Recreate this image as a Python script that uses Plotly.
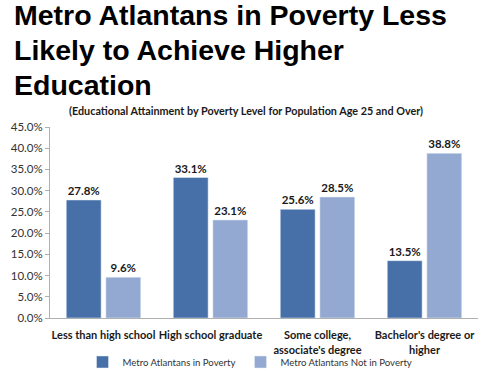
import plotly.graph_objects as go

categories = ["Less than high school", "High school graduate", "Some college,<br>associate's degree", "Bachelor's degree or<br>higher"]
in_poverty = [27.8, 33.1, 25.6, 13.5]
not_in_poverty = [9.6, 23.1, 28.5, 38.8]
series_names = ["Metro Atlantans in Poverty", "Metro Atlantans Not in Poverty"]
tick_vals = [0, 5, 10, 15, 20, 25, 30, 35, 40, 45]
tick_text = [f"{v:.1f}%" for v in tick_vals]

dark = "#4770A8"
light = "#93A9D1"
lab_font = dict(family="Lato, Open Sans, sans-serif", size=11.5, color="#1a1a1a")

fig = go.Figure()
fig.add_trace(go.Bar(x=categories, y=in_poverty, name=series_names[0], marker_color=dark,
                     text=[f"<b>{v:.1f}%</b>" for v in in_poverty], textposition="outside",
                     textfont=lab_font, cliponaxis=False))
fig.add_trace(go.Bar(x=categories, y=not_in_poverty, name=series_names[1], marker_color=light,
                     text=[f"<b>{v:.1f}%</b>" for v in not_in_poverty], textposition="outside",
                     textfont=lab_font, cliponaxis=False))

T, B = 127, 318
H = B - T
def py(y):
    return (B - y) / H

annos = []
for i, line in enumerate(["Metro Atlantans in Poverty Less", "Likely to Achieve Higher", "Education"]):
    annos.append(dict(text=f"<b>{line}</b>", xref="paper", yref="paper", x=(12 - 50) / 428, y=py(-3 + 35 * i),
                      xanchor="left", yanchor="top", showarrow=False,
                      font=dict(family="Liberation Sans, Arial, sans-serif", size=28.5, color="#000")))
annos.append(dict(text="<b>(Educational Attainment by Poverty Level for Population Age 25 and Over)</b>",
                  xref="paper", yref="paper", x=(246 - 50) / 428, y=py(110), xanchor="center", yanchor="middle",
                  showarrow=False, font=dict(family="Lato, Open Sans, sans-serif", size=10.8, color="#1a1a1a")))

fig.update_layout(
    width=500, height=372,
    margin=dict(l=50, r=22, t=T, b=372 - B, autoexpand=False),
    paper_bgcolor="white", plot_bgcolor="white",
    barmode="group", bargap=0.26, bargroupgap=0.12,
    showlegend=True,
    legend=dict(orientation="h", x=0.5, xanchor="center", xref="container",
                y=(372 - 362) / 372, yanchor="middle", yref="container",
                bgcolor="rgba(0,0,0,0)",
                font=dict(family="Lato, Open Sans, sans-serif", size=9.6, color="#333"),
                itemwidth=30, traceorder="normal"),
    annotations=annos,
    xaxis=dict(showline=True, linecolor="#b0b0b0", ticks="", showgrid=False, tickangle=0, automargin=False,
               ticklabelstandoff=7,
               tickfont=dict(family="Lato, Open Sans, sans-serif", size=11, color="#1a1a1a"),
               tickprefix="<b>", ticksuffix="</b>"),
    yaxis=dict(range=[0, 45], tickvals=tick_vals, ticktext=tick_text, showgrid=False, showline=True,
               automargin=False,
               linecolor="#b0b0b0", ticks="outside", ticklen=4, tickcolor="#b0b0b0", zeroline=False,
               tickfont=dict(family="Lato, Open Sans, sans-serif", size=11.5, color="#333")),
)
fig.write_html("out.html", config={"displayModeBar": False},
               post_script="document.body.style.margin='0';document.body.style.overflow='hidden';")
